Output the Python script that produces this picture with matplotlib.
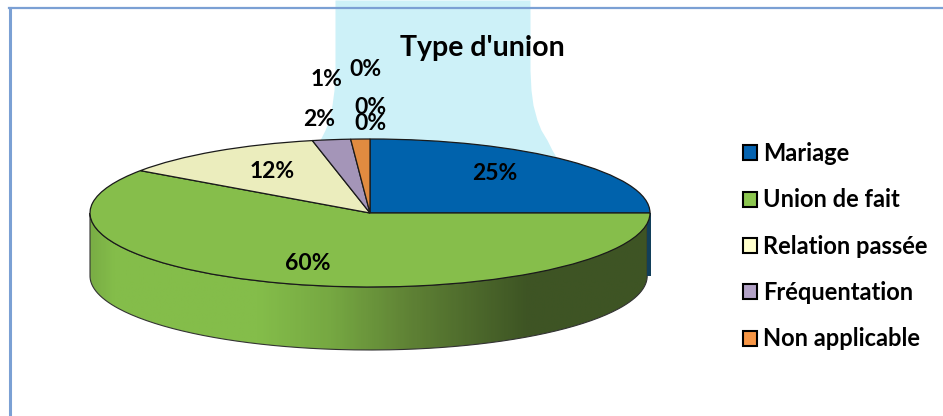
import numpy as np
import matplotlib.pyplot as plt
from matplotlib.colors import LinearSegmentedColormap
from matplotlib.patches import Patch, PathPatch
from matplotlib.path import Path

plt.rcParams['font.family'] = ['Lato', 'DejaVu Sans']
plt.rcParams['font.weight'] = 'bold'

categories = ['Mariage', 'Union de fait', 'Relation passée', 'Fréquentation', 'Non applicable']
values = [25, 59.7, 12, 2.2, 1.1]
pie_colors = ['#0062AC', '#86BE4B', '#EBEDBD', '#A495B8', '#E18B40']
legend_colors = ['#0563B0', '#8CC650', '#FFFFCC', '#B3A2C7', '#F79646']
pct_labels = ['25%', '60%', '12%', '2%', '1%', '0%', '0%', '0%']
label_pos = [(495, 173), (308, 263), (272, 171), (319, 119), (327, 79), (365, 69), (370, 108), (370, 123)]

W, H = 943, 416
cx, cy, rx, ry, depth = 370, 213, 280, 74, 63

fig = plt.figure(figsize=(W / 100, H / 100), dpi=100)

# background in pixel coords
bg = fig.add_axes([0, 0, 1, 1], zorder=0)
bg.set_xlim(0, W)
bg.set_ylim(H, 0)
bg.axis('off')

band_y = [0, 70, 90, 105, 120, 130, 140, 150, 160]
band_left = [335, 335, 334, 332, 329, 325, 320, 318, 318]
band_right = [530, 530, 531, 533, 537, 541, 547, 552, 558]
bg.fill_betweenx(band_y, band_left, band_right, color='#CDF1F8', lw=0)
bg.plot([9, W], [8, 8], color='#7BA0D4', lw=1.6)
bg.plot([10, 10], [8, H], color='#7BA0D4', lw=2.2)

# pie axes, one data unit = the pie radius
ax = fig.add_axes([0, 0, 1, 1], zorder=1)
ax.patch.set_alpha(0)

# side wall of the 3d pie
th = np.linspace(np.pi, 2 * np.pi, 200)
x_top = np.where(np.cos(th) < 0, np.cos(th), np.cos(th) * 0.99)
y_top = np.sin(th)
wall_x = np.r_[x_top, x_top[::-1], x_top[0]]
wall_y = np.r_[y_top, y_top[::-1] - depth / ry, y_top[0]]
wall_path = Path(np.c_[wall_x, wall_y])

stops = [(0, '#7AAE45'), (0.04, '#84BD4A'), (0.3, '#84BD4A'), (0.43, '#76A842'),
         (0.57, '#5F8235'), (0.78, '#3E5524'), (1, '#3E5424')]
wall_cmap = LinearSegmentedColormap.from_list('wall', stops)
grad = ax.imshow(np.linspace(0, 1, 300)[None, :], cmap=wall_cmap, aspect='auto',
                 extent=(-1, 1, -1 - depth / ry, 0))
wall_patch = PathPatch(wall_path, fc='none', ec='#333333', lw=0.8, zorder=1.5)
ax.add_patch(wall_patch)
grad.set_clip_path(wall_patch)

# blue sliver at the right edge of the wall
ax.fill([0.99, 1.003, 1.003, 0.99], [0, 0, -depth / ry, -depth / ry], color='#123F5A', lw=0, zorder=1.6)

wedges, _ = ax.pie(values, colors=pie_colors, startangle=90, counterclock=False,
                   wedgeprops={'edgecolor': '#1A1A1A', 'linewidth': 0.9})
for w in wedges:
    w.set_zorder(2)

ax.set_aspect('auto')
ax.set_xlim(-cx / rx, (W - cx) / rx)
ax.set_ylim((cy - H) / ry, cy / ry)
ax.axis('off')

for txt, (px, py) in zip(pct_labels, label_pos):
    ax.text(px, py, txt, transform=bg.transData, ha='center', va='center',
            fontsize=16.5, fontweight='bold', color='black', zorder=5)

ax.text(482, 48, "Type d'union", transform=bg.transData, ha='center', va='center',
        fontsize=20.5, fontweight='bold', color='black', zorder=5)

handles = [Patch(fc=c, ec='black', lw=1.5) for c in legend_colors]
leg = ax.legend(handles, categories, loc='upper left', bbox_to_anchor=(743 / W, 1 - 142 / H),
                bbox_transform=fig.transFigure, frameon=False, fontsize=17,
                handlelength=0.6, handleheight=0.6, handletextpad=0.25,
                labelspacing=0.99, borderpad=0, borderaxespad=0)
leg.set_zorder(5)

fig.savefig('out.png', dpi=100)
